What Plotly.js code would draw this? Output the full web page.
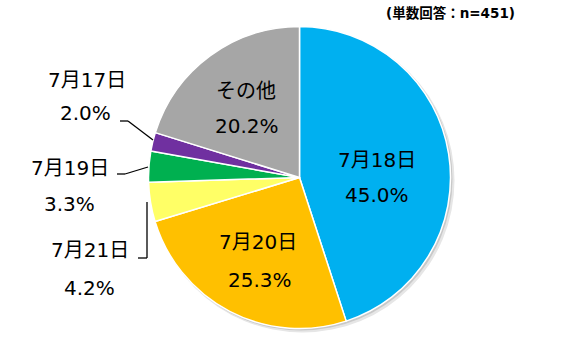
<!DOCTYPE html>
<html><head><meta charset="utf-8">
<script src="https://cdn.plot.ly/plotly-3.0.1.min.js"></script>
<style>html,body{margin:0;padding:0;background:#fff}#chart{width:574px;height:362px}</style>
</head><body><div id="chart"></div>
<script>
const categories = ["7月18日", "7月20日", "7月21日", "7月19日", "7月17日", "その他"];
const values = [45.0, 25.3, 4.2, 3.3, 2.0, 20.2];
const colors = ["#00B0F0", "#FFC000", "#FFFF66", "#00B050", "#7030A0", "#A6A6A6"];
const titleText = "(単数回答：n=451)";

const W = 574, H = 362;
const cx = 299.5, cy = 177.5, R = 151;
const px = x => x / W;
const py = y => 1 - y / H;
function dom(dx, dy, r) {
  return {x: [px(cx + dx - r), px(cx + dx + r)], y: [py(cy + dy + r), py(cy + dy - r)]};
}
const FONT = "'DejaVu Sans', 'Noto Sans CJK JP', sans-serif";

const shadow1 = {type: "pie", values: [1], marker: {colors: ["#e6e6e6"], line: {width: 0}},
  textinfo: "none", hoverinfo: "skip", showlegend: false, sort: false, domain: dom(3, 3, R + 1)};
const shadow2 = {type: "pie", values: [1], marker: {colors: ["#c8c8c8"], line: {width: 0}},
  textinfo: "none", hoverinfo: "skip", showlegend: false, sort: false, domain: dom(1.5, 1.5, R + 0.5)};
const pie = {
  type: "pie", labels: categories, values: values, sort: false, direction: "clockwise", rotation: 0,
  marker: {colors: colors, line: {color: "#ffffff", width: 1.5}},
  textinfo: "none", showlegend: false, domain: dom(0, 0, R)
};

const fmt = v => v.toFixed(1) + "%";
// label placement (pixel centres) per category: [name line, value line]
const labelPos = [
  [[377, 160], [377, 195]],
  [[258, 242], [260, 280]],
  [[90, 250], [89.5, 288]],
  [[70, 168], [69.5, 204]],
  [[87, 80], [85.5, 113]],
  [[246, 91], [247, 126]]
];
const annotations = [];
categories.forEach((c, i) => {
  const [p1, p2] = labelPos[i];
  annotations.push({text: c, x: px(p1[0]), y: py(p1[1]), xref: "paper", yref: "paper",
    xanchor: "center", yanchor: "middle", showarrow: false, font: {family: FONT, size: 20, color: "#000"}});
  annotations.push({text: fmt(values[i]), x: px(p2[0]), y: py(p2[1]), xref: "paper", yref: "paper",
    xanchor: "center", yanchor: "middle", showarrow: false, font: {family: FONT, size: 20, color: "#000"}});
});
annotations.push({text: "<b>" + titleText + "</b>", x: px(450), y: py(13), xref: "paper", yref: "paper",
  xanchor: "center", yanchor: "middle", showarrow: false, font: {family: FONT, size: 13.5, color: "#000"}});

const leaders = [
  [[120, 121], [128, 121], [153, 140]],
  [[117, 174], [125, 174], [148, 167]],
  [[138, 258], [147, 258], [147, 202]]
];
const segShapes = [];
leaders.forEach(pts => {
  for (let k = 0; k < pts.length - 1; k++) {
    segShapes.push({type: "line", xref: "paper", yref: "paper",
      x0: px(pts[k][0]), y0: py(pts[k][1]), x1: px(pts[k+1][0]), y1: py(pts[k+1][1]),
      line: {color: "#000", width: 1.3}});
  }
});

Plotly.newPlot("chart", [shadow1, shadow2, pie], {
  width: W, height: H, margin: {l: 0, r: 0, t: 0, b: 0},
  paper_bgcolor: "#fff", plot_bgcolor: "#fff", showlegend: false,
  annotations: annotations, shapes: segShapes
}, {staticPlot: true});
</script></body></html>
